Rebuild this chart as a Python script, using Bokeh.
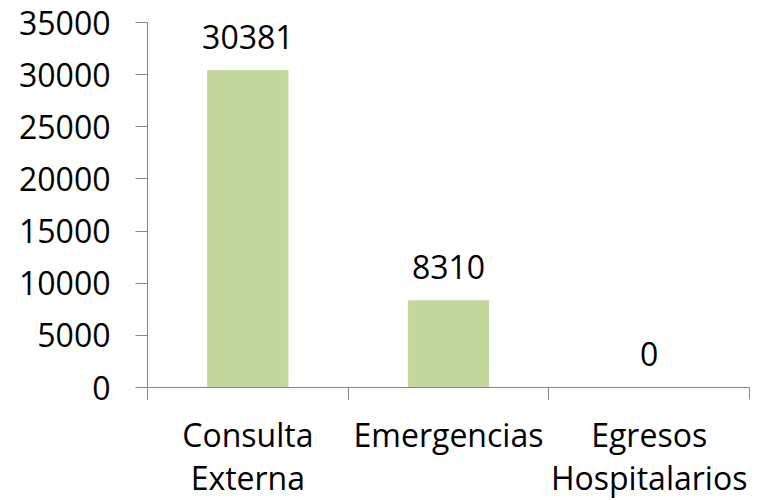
from bokeh.plotting import figure
from bokeh.models import (ColumnDataSource, Range1d, FixedTicker,
                          SingleIntervalTicker)
from bokeh.embed import file_html
from bokeh.resources import INLINE
from bokeh.core.properties import value

categories = ["Consulta\nExterna", "Emergencias", "Egresos\nHospitalarios"]
values = [30381, 8310, 0]
value_labels = [str(v) for v in values]

FONT = "Open Sans"
BAR = "#c3d69b"
AXIS = "#868686"

n = len(categories)
pos = list(range(n))
src = ColumnDataSource(dict(x=pos, val=values, lab=value_labels))

p = figure(x_range=Range1d(-0.5, n - 0.5), y_range=Range1d(0, 35000),
           frame_width=602, frame_height=365,
           min_border_left=147, min_border_right=19, min_border_top=22,
           min_border_bottom=0,
           output_backend="svg", toolbar_location=None)
p.outline_line_color = None
p.xgrid.visible = False
p.ygrid.visible = False
p.background_fill_color = "white"

p.vbar(x="x", top="val", width=0.4, source=src, fill_color=BAR,
       line_color=BAR)
p.text(x="x", y="val", text="lab", source=src, text_align="center",
       text_baseline="alphabetic", y_offset=-34, text_font=value(FONT),
       text_font_size="32px", text_color="black")

# y axis
ya = p.yaxis[0]
ya.ticker = SingleIntervalTicker(interval=5000)
ya.minor_tick_line_color = None
ya.major_tick_in = 0
ya.major_tick_out = 12
ya.axis_line_color = AXIS
ya.major_tick_line_color = AXIS
ya.major_label_standoff = 25
ya.major_label_text_font = FONT
ya.major_label_text_font_size = "32px"
ya.major_label_text_color = "black"

# x axis: labels at category centers, ticks at category boundaries
xa = p.xaxis[0]
xa.ticker = FixedTicker(ticks=pos, minor_ticks=[i - 0.5 for i in range(n + 1)])
xa.major_label_overrides = {i: categories[i] for i in range(n)}
xa.major_tick_line_color = None
xa.major_tick_in = 0
xa.major_tick_out = 12
xa.minor_tick_in = 0
xa.minor_tick_out = 12
xa.minor_tick_line_color = AXIS
xa.axis_line_color = AXIS
xa.major_label_standoff = 13
xa.major_label_text_font = FONT
xa.major_label_text_font_size = "32px"
xa.major_label_text_color = "black"
xa.major_label_text_line_height = 1.02

open("out.html", "w").write(file_html(p, INLINE))
